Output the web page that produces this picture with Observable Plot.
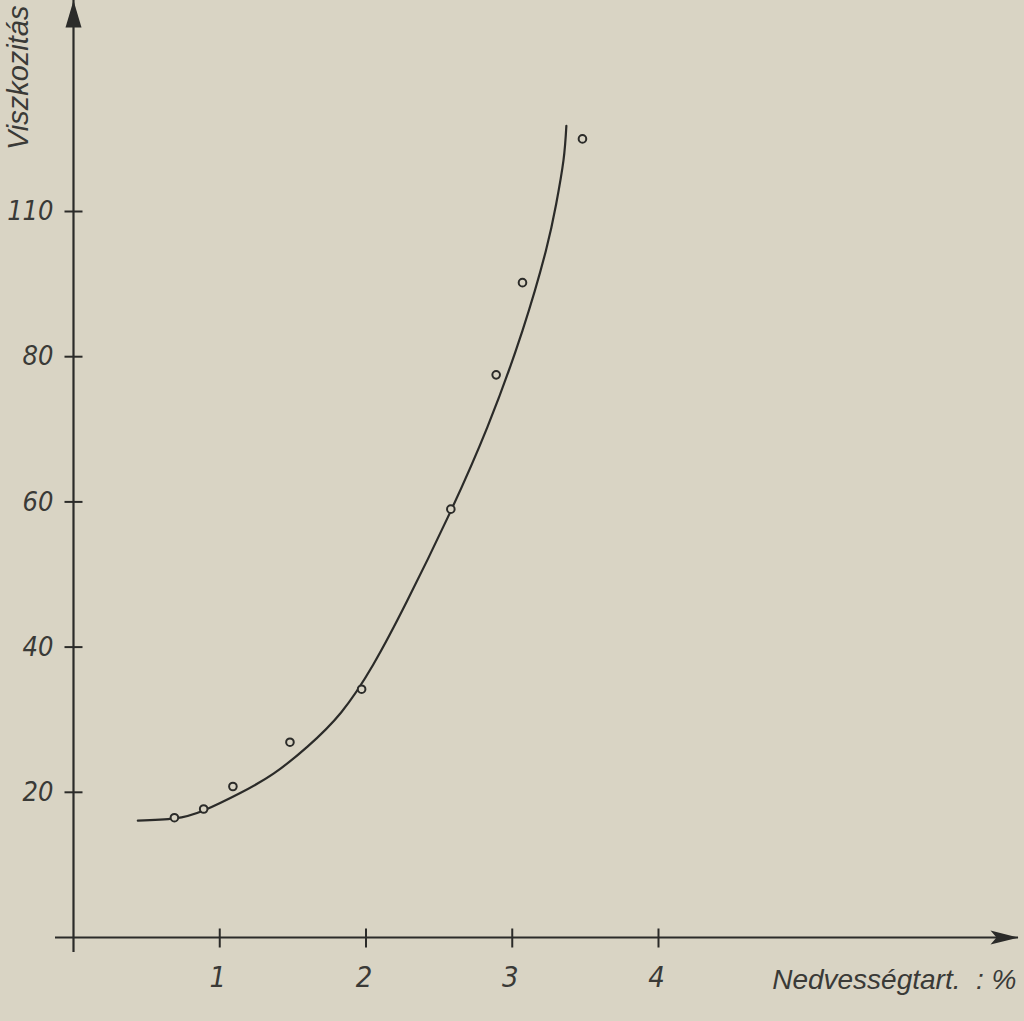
<!DOCTYPE html>
<html>
<head>
<meta charset="utf-8">
<script src="https://cdn.jsdelivr.net/npm/d3@7"></script>
<script src="https://cdn.jsdelivr.net/npm/@observablehq/plot@0.6"></script>
<style>
  html, body { margin: 0; padding: 0; background: #d9d4c4; }
  #chart svg { display: block; }
</style>
</head>
<body>
<div id="chart"></div>
<script>
// Measured points (moisture %, viscosity)
const pointX = [0.69, 0.89, 1.09, 1.48, 1.97, 2.58, 2.89, 3.07, 3.48];
const pointY = [16.5, 17.7, 20.8, 26.9, 34.2, 59.0, 77.5, 90.2, 110.0];

// Fitted curve
const curveX = [0.44, 0.69, 0.89, 1.14, 1.37, 1.60, 1.83, 2.05, 2.28, 2.56, 2.83, 3.07, 3.23, 3.30, 3.35, 3.37];
const curveY = [16.1, 16.4, 17.5, 19.9, 22.6, 26.3, 31.0, 37.6, 46.3, 57.9, 70.3, 83.6, 94.6, 101.0, 107.0, 111.8];

// Axis ticks
const xTicks = [1, 2, 3, 4];
const xTickLabels = ["1", "2", "3", "4"];
const yTicks = [20, 40, 60, 80, 100];
const yTickLabels = ["20", "40", "60", "80", "110"];

const yTitle = "Viszkozitás";
const xTitle = "Nedvességtart.\u00a0\u00a0:\u00a0%";

const points = pointX.map((x, i) => ({x, y: pointY[i]}));
const curve = curveX.map((x, i) => ({x, y: curveY[i]}));
const xt = xTicks.map((v, i) => ({v, label: xTickLabels[i]}));
const yt = yTicks.map((v, i) => ({v, label: yTickLabels[i]}));

const ink = "#2b2b29";
const textInk = "#3a3a37";
const bg = "#d9d4c4";
const tickFont = "'Liberation Sans Narrow', 'DejaVu Sans Condensed', 'Liberation Sans', sans-serif";
const titleFont = "'Liberation Sans', 'DejaVu Sans', sans-serif";

// custom symbols
const hTick = {draw(ctx) { ctx.moveTo(-9, 0); ctx.lineTo(9, 0); }};
const vTick = {draw(ctx) { ctx.moveTo(0, -9); ctx.lineTo(0, 10); }};
const upArrow = {draw(ctx) { ctx.moveTo(0, 0); ctx.lineTo(8, 27); ctx.lineTo(-8, 27); ctx.closePath(); }};
const rightArrow = {draw(ctx) { ctx.moveTo(0, 0); ctx.lineTo(-28, -7); ctx.lineTo(-22, 0); ctx.lineTo(-28, 7); ctx.closePath(); }};

const chart = Plot.plot({
  width: 1024,
  height: 1021,
  marginTop: 0,
  marginBottom: 69,
  marginLeft: 55,
  marginRight: 6,
  style: {background: bg},
  x: {domain: [0, 4], range: [73, 658], axis: null},
  y: {domain: [0, 100], range: [937, 211], axis: null},
  marks: [
    // axis lines
    Plot.ruleX([0], {stroke: ink, strokeWidth: 2.2}),
    Plot.ruleY([0], {stroke: ink, strokeWidth: 2.2}),
    // arrowheads
    Plot.dot([0], {x: d => d, frameAnchor: "top", symbol: upArrow, fill: ink, stroke: "none"}),
    Plot.dot([0], {y: d => d, frameAnchor: "right", symbol: rightArrow, fill: ink, stroke: "none"}),
    // tick marks
    Plot.dot(yt, {x: () => 0, y: "v", symbol: hTick, fill: "none", stroke: ink, strokeWidth: 2}),
    Plot.dot(xt, {x: "v", y: () => 0, symbol: vTick, fill: "none", stroke: ink, strokeWidth: 2}),
    // tick labels
    Plot.text(yt, {x: () => 0, y: "v", text: "label", dx: -20, textAnchor: "end", lineAnchor: "middle",
      fontSize: 27, fontStyle: "italic", fontFamily: tickFont, fill: textInk}),
    Plot.text(xt, {x: "v", y: () => 0, text: "label", dx: -2, dy: 40, lineAnchor: "middle",
      fontSize: 29, fontStyle: "italic", fontFamily: tickFont, fill: textInk}),
    // curve and points
    Plot.line(curve, {x: "x", y: "y", curve: "natural", stroke: ink, strokeWidth: 2.2}),
    Plot.dot(points, {x: "x", y: "y", r: 3.8, stroke: ink, strokeWidth: 2, fill: bg}),
    // axis titles
    Plot.text([yTitle], {frameAnchor: "top-left", text: d => d, rotate: -90, textAnchor: "end", lineAnchor: "bottom",
      dx: -28, dy: 5, fontSize: 29, fontStyle: "italic", fontFamily: titleFont, fill: textInk}),
    Plot.text([xTitle], {frameAnchor: "bottom-right", text: d => d, textAnchor: "end", lineAnchor: "bottom",
      dx: -2, dy: 36, fontSize: 28, fontStyle: "italic", fontFamily: titleFont, fill: textInk})
  ]
});
document.getElementById("chart").appendChild(chart);
</script>
</body>
</html>
